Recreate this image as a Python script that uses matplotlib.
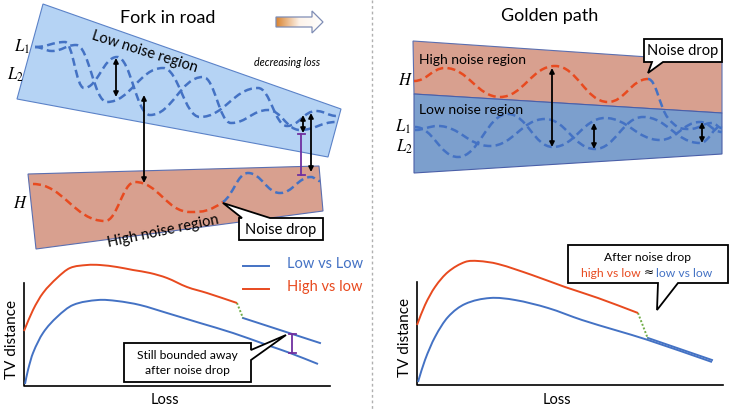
import numpy as np
import matplotlib
matplotlib.use('Agg')
import matplotlib.pyplot as plt
from matplotlib.patches import Polygon, PathPatch
from matplotlib.path import Path
from matplotlib.colors import LinearSegmentedColormap

plt.rcParams['font.family'] = ['Lato', 'DejaVu Sans']
plt.rcParams['mathtext.fontset'] = 'stix'

# ---------------- data (pixel coordinates) ----------------
# regions
low_left_x = [43, 341, 328, 17]
low_left_y = [4, 109, 157, 99]
high_left_x = [28, 319, 323, 36]
high_left_y = [174, 166, 211, 249]
high_right_x = [413, 722, 722, 414]
high_right_y = [41, 62, 113, 94]
low_right_x = [414, 722, 722, 414]
low_right_y = [94, 113, 154, 173]

# wavy trajectories (extrema)
L1_left_x = [35, 65, 84, 117, 150, 203, 231, 268, 300, 336]
L1_left_y = [47, 42, 88, 57, 115, 77, 123, 110, 130, 122]
L2_left_x = [35, 52, 76, 107, 163, 200, 258, 287, 316, 337]
L2_left_y = [47, 51, 45, 102, 68, 117, 88, 126, 111, 116]
H_left_x = [33, 105, 135, 190, 223, 248, 280, 311, 320]
H_left_y = [184, 221, 182, 212, 202, 173, 193, 177, 181]
H_left_split = 4

L1_right_x = [415, 438, 490, 545, 595, 643, 700, 722]
L1_right_y = [130, 126, 146, 119, 149, 117, 143, 126]
L2_right_x = [415, 458, 508, 553, 605, 660, 700, 722]
L2_right_y = [127, 157, 114, 147, 118, 140, 122, 132]
H_right_x = [414, 445, 500, 555, 608, 648, 668, 690, 712, 722]
H_right_y = [81, 68, 97, 66, 102, 79, 118, 129, 123, 128]
H_right_split = 5

# double arrows (x, y_top, y_bottom)
arrows_x = [116, 144, 303, 311, 552, 594, 702]
arrows_y1 = [58, 95, 115, 113, 68, 123, 122]
arrows_y2 = [97, 183, 133, 172, 147, 149, 143]
# purple bounds (x, y_top, y_bottom)
bound_x = [301, 292]
bound_y1 = [134, 334]
bound_y2 = [175, 353]

# bottom-left curves
red_l_x = [24, 33, 43, 57, 70, 87, 100, 117, 133, 150, 167, 187, 207, 237]
red_l_y = [331, 310, 293, 278, 268, 265, 265, 267, 270, 273, 278, 287, 293, 303]
blue_l_x = [25, 28, 33, 43, 57, 73, 98, 117, 140, 167, 200, 233, 267, 290, 318]
blue_l_y = [384, 370, 353, 333, 317, 305, 300, 301, 305, 313, 323, 333, 345, 353, 364]
after_l_x = [243, 320]
after_l_y = [318, 343]
drop_l_x = [237, 243]
drop_l_y = [303, 318]

# bottom-right curves
red_r_x = [417, 425, 435, 448, 465, 478, 498, 532, 565, 598, 638]
red_r_y = [325, 305, 287, 272, 262, 261, 264, 275, 287, 298, 313]
blue_r_x = [418, 425, 435, 448, 465, 490, 515, 548, 582, 615, 648, 712]
blue_r_y = [382, 360, 337, 317, 304, 298, 300, 308, 320, 330, 340, 362]
after_r_x = [648, 712]
after_r_y = [338, 360]
drop_r_x = [638, 648]
drop_r_y = [313, 339]

# callouts: box + pointer polygon order
nd_left = [(239, 240), (239, 218), (242, 218), (223, 203), (270, 218), (323, 218), (323, 240)]
nd_right = [(644, 39), (722, 39), (722, 62), (663, 62), (648, 73), (652, 62), (644, 62)]
still_box = [(124, 343), (251, 343), (251, 350), (286, 335), (251, 360), (251, 382), (124, 382)]
after_box = [(568, 245), (728, 245), (728, 283), (678, 283), (657, 310), (658, 283), (568, 283)]

# gradient arrow
garrow = [(276, 17), (312, 17), (312, 11), (323, 22), (312, 33), (312, 27), (276, 27)]

# ---------------- styles ----------------
BLUE = '#4472c4'
RED = '#e84a1f'
DASH = (0, (3.2, 1.7))
LW_D = 1.8

fig = plt.figure(figsize=(7.3, 4.11), dpi=100)
ax = fig.add_axes([0, 0, 1, 1])
ax.set_xlim(0, 730)
ax.set_ylim(411, 0)
ax.axis('off')


def tangents(xs, ys, flat_extrema=True):
    n = len(xs)
    s = []
    for i in range(n):
        if i == 0:
            s.append(0.0 if flat_extrema else (ys[1] - ys[0]) / (xs[1] - xs[0]))
        elif i == n - 1:
            s.append(0.0 if flat_extrema else (ys[-1] - ys[-2]) / (xs[-1] - xs[-2]))
        elif flat_extrema and (ys[i] - ys[i - 1]) * (ys[i + 1] - ys[i]) <= 0:
            s.append(0.0)
        else:
            s.append((ys[i + 1] - ys[i - 1]) / (xs[i + 1] - xs[i - 1]))
    return s


def curve(xs, ys, color, start=0, end=None, style='-', lw=1.4, flat=True, k=0.42, z=3):
    sl = tangents(xs, ys, flat)
    if end is None:
        end = len(xs) - 1
    verts = [(xs[start], ys[start])]
    codes = [Path.MOVETO]
    for i in range(start, end):
        dx = xs[i + 1] - xs[i]
        kk = k if flat else 1 / 3
        c1 = (xs[i] + kk * dx, ys[i] + sl[i] * kk * dx)
        c2 = (xs[i + 1] - kk * dx, ys[i + 1] - sl[i + 1] * kk * dx)
        verts += [c1, c2, (xs[i + 1], ys[i + 1])]
        codes += [Path.CURVE4] * 3
    ax.add_patch(PathPatch(Path(verts, codes), fill=False, ec=color, lw=lw,
                           linestyle=style, zorder=z, capstyle='butt'))


# regions
ax.add_patch(Polygon(list(zip(low_left_x, low_left_y)), closed=True, fc='#b5d3f4', ec='#5b82c8', lw=0.8, zorder=1))
ax.add_patch(Polygon(list(zip(high_left_x, high_left_y)), closed=True, fc='#d8a08f', ec='#5b6fb0', lw=0.8, zorder=1))
ax.add_patch(Polygon(list(zip(high_right_x, high_right_y)), closed=True, fc='#d8a08f', ec='#5b6fb0', lw=0.8, zorder=1))
ax.add_patch(Polygon(list(zip(low_right_x, low_right_y)), closed=True, fc='#7c9fcd', ec='#4a5fa8', lw=0.8, zorder=1))

# waves
curve(L1_left_x, L1_left_y, BLUE, style=DASH, lw=LW_D)
curve(L2_left_x, L2_left_y, BLUE, style=DASH, lw=LW_D)
curve(H_left_x, H_left_y, RED, 0, H_left_split, style=DASH, lw=LW_D)
curve(H_left_x, H_left_y, BLUE, H_left_split, style=DASH, lw=LW_D)
curve(L1_right_x, L1_right_y, BLUE, style=DASH, lw=LW_D)
curve(L2_right_x, L2_right_y, BLUE, style=DASH, lw=LW_D)
curve(H_right_x, H_right_y, RED, 0, H_right_split, style=DASH, lw=LW_D)
curve(H_right_x, H_right_y, BLUE, H_right_split, style=DASH, lw=LW_D)

# double arrows
for x, a, b in zip(arrows_x, arrows_y1, arrows_y2):
    ax.annotate('', xy=(x, a), xytext=(x, b),
                arrowprops=dict(arrowstyle='<|-|>', color='black', lw=1.3,
                                mutation_scale=7, shrinkA=0, shrinkB=0), zorder=5)
# purple bounds
for x, a, b in zip(bound_x, bound_y1, bound_y2):
    ax.plot([x, x], [a, b], color='#7030a0', lw=1.3, zorder=5)
    ax.plot([x - 3.5, x + 3.5], [a, a], color='#7030a0', lw=1.3, zorder=5)
    ax.plot([x - 3.5, x + 3.5], [b, b], color='#7030a0', lw=1.3, zorder=5)

# callouts
for poly in (nd_left, nd_right, still_box, after_box):
    ax.add_patch(Polygon(poly, closed=True, fc='white', ec='black', lw=1.3, zorder=6))

ax.text(281, 229.5, 'Noise drop', ha='center', va='center', fontsize=10.5, zorder=7)
ax.text(683, 50.5, 'Noise drop', ha='center', va='center', fontsize=10.5, zorder=7)
ax.text(187.5, 355, 'Still bounded away', ha='center', va='center', fontsize=8.7, zorder=7)
ax.text(187.5, 370, 'after noise drop', ha='center', va='center', fontsize=8.7, zorder=7)
ax.text(648, 257, 'After noise drop', ha='center', va='center', fontsize=8.7, zorder=7)
ax.text(641, 273, 'high vs low', ha='right', va='center', fontsize=8.7, color=RED, zorder=7)
ax.text(648.5, 273, '\u2248', ha='center', va='center', fontsize=8.7, color='black', zorder=7,
        family=['DejaVu Sans'])
ax.text(656, 273, 'low vs low', ha='left', va='center', fontsize=8.7, color=BLUE, zorder=7)

# gradient arrow
gp = Polygon(garrow, closed=True, fc='none', ec='#7f8db5', lw=0.9, zorder=4)
ax.add_patch(gp)
grad = np.linspace(0, 1, 256).reshape(1, -1)
cm = LinearSegmentedColormap.from_list('g', ['#d9832f', '#fdf3ea', '#ffffff'])
im = ax.imshow(grad, cmap=cm, extent=[276, 323, 33, 11], aspect='auto', zorder=3)
im.set_clip_path(gp)
ax.set_xlim(0, 730)
ax.set_ylim(411, 0)

# titles / labels
ax.text(168, 18, 'Fork in road', ha='center', va='center', fontsize=13)
ax.text(550, 16, 'Golden path', ha='center', va='center', fontsize=13)
ax.text(287, 62, 'decreasing loss', ha='center', va='center', fontsize=7.7, style='italic')
ax.text(145, 52, 'Low noise region', ha='center', va='center', fontsize=10.5, rotation=-17.5,
        rotation_mode='anchor')
ax.text(163, 231, 'High noise region', ha='center', va='center', fontsize=10.5, rotation=12,
        rotation_mode='anchor')
ax.text(419, 60, 'High noise region', ha='left', va='center', fontsize=10)
ax.text(419, 110, 'Low noise region', ha='left', va='center', fontsize=10)

for (x, y, s) in [(22, 47, r'$L_1$'), (15, 75, r'$L_2$'), (20, 203, r'$H$'),
                  (405, 80, r'$H$'), (403, 127, r'$L_1$'), (404, 147, r'$L_2$')]:
    ax.text(x, y, s, ha='center', va='center', fontsize=12)

# divider
ax.plot([372, 372], [0, 411], color='#b0b0b0', lw=1, linestyle=(0, (2, 2)))

# bottom-left chart
ax.plot([24, 24, 330], [283, 386, 386], color='black', lw=1.2)
curve(red_l_x, red_l_y, RED, flat=False)
curve(blue_l_x, blue_l_y, BLUE, flat=False)
ax.plot(after_l_x, after_l_y, color=BLUE, lw=1.4)
ax.plot(drop_l_x, drop_l_y, color='#70ad47', lw=1.4, linestyle=(0, (1, 1)))
ax.text(12, 339, 'TV distance', rotation=90, ha='center', va='center', fontsize=11)
ax.text(165, 400, 'Loss', ha='center', va='center', fontsize=10.5)
ax.plot([243, 269], [266, 266], color=BLUE, lw=1.4)
ax.plot([243, 269], [289, 289], color=RED, lw=1.4)
ax.text(287, 264, 'Low vs Low', ha='left', va='center', fontsize=10.5, color=BLUE)
ax.text(287, 287, 'High vs low', ha='left', va='center', fontsize=10.5, color=RED)

# bottom-right chart
ax.plot([417, 417, 723], [282, 385, 385], color='black', lw=1.2)
curve(red_r_x, red_r_y, RED, flat=False)
curve(blue_r_x, blue_r_y, BLUE, flat=False)
ax.plot(after_r_x, after_r_y, color=BLUE, lw=1.4)
ax.plot(drop_r_x, drop_r_y, color='#70ad47', lw=1.4, linestyle=(0, (1, 1)))
ax.text(405, 337, 'TV distance', rotation=90, ha='center', va='center', fontsize=11)
ax.text(557, 400, 'Loss', ha='center', va='center', fontsize=10.5)

fig.savefig('out.png', dpi=100, facecolor='white')
